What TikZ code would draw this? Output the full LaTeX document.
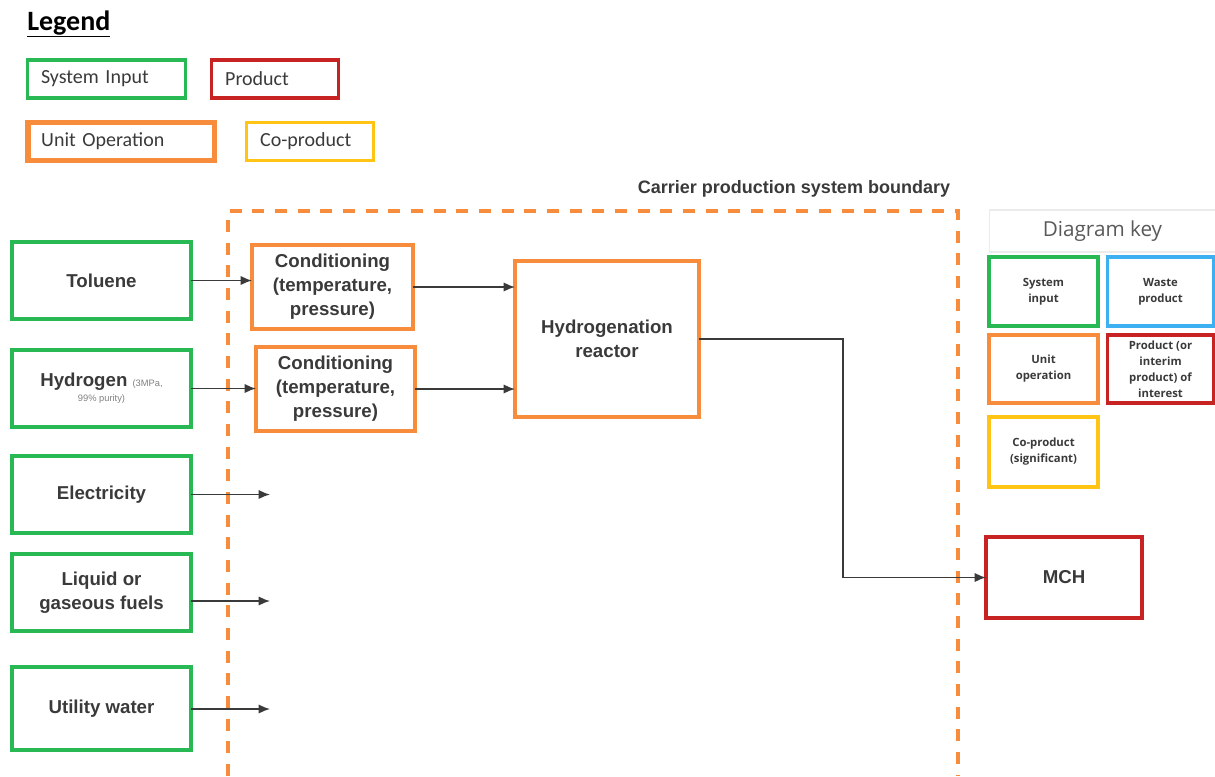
\documentclass[tikz,border=0pt]{standalone}
\usepackage{fontspec}
\setmainfont{Liberation Sans}
\newfontfamily\calf{Carlito}
\newfontfamily\keyf{Open Sans}
\usetikzlibrary{arrows.meta}
\definecolor{cgreen}{RGB}{40,185,85}
\definecolor{corange}{RGB}{246,140,60}
\definecolor{cred}{RGB}{200,35,35}
\definecolor{cyellow}{RGB}{255,196,20}
\definecolor{cblue}{RGB}{60,176,240}
\definecolor{ctext}{RGB}{58,58,58}
\begin{document}
\begin{tikzpicture}[x=0.75pt,y=-0.75pt,
  box/.style={draw=#1,line width=2.6pt,fill=white,inner sep=0pt,outer sep=0pt,align=center,text=ctext,
    font=\fontsize{14}{18}\selectfont\bfseries},
  lg/.style={draw=#1,line width=2.3pt,inner xsep=10pt,inner ysep=0pt,outer sep=0pt,align=left,
    minimum height=28.5pt,font=\calf\fontsize{15}{18}\selectfont,text=ctext},
  key/.style={draw=#1,line width=2.3pt,inner sep=0pt,outer sep=0pt,align=center,text=ctext,
    minimum width=81.75pt,minimum height=51.75pt,font=\keyf\fontsize{8.5}{12}\selectfont\bfseries},
  arr/.style={draw=ctext,line width=1.2pt,-{Latex[length=8.5pt,width=7pt]}},
  conn/.style={draw=ctext,line width=1.2pt}]
\useasboundingbox (0,0) rectangle (1215,776);

% Legend
\node[anchor=west,font=\calf\fontsize{21}{24}\selectfont\bfseries,text=black,inner sep=0pt] (legend) at (27,24) {\underline{Legend}};
\node[lg=cgreen,text width=98.25pt] (lgin) at (106.5,79) {System Input};
\node[lg=cred,text width=74.75pt] (lgprod) at (275,79) {Product};
\node[lg=corange,line width=4pt,text width=119.75pt] (lgunit) at (121,141.5) {Unit Operation};
\node[lg=cyellow,text width=74.75pt] (lgco) at (310,141.5) {Co-product};

% Boundary
\draw[corange,line width=2.6pt,dash pattern=on 9pt off 8pt] (228,776) -- (228,211) -- (958,211) -- (958,776);
\node[font=\fontsize{13.5}{16}\selectfont\bfseries,text=ctext] (blabel) at (794,189) {Carrier production system boundary};

% Inputs
\node[box=cgreen,minimum width=134.25pt,minimum height=57.75pt] (toluene) at (101.5,280.5) {Toluene};
\node[box=cgreen,minimum width=134.25pt,minimum height=57.75pt,font=\fontsize{14}{12}\selectfont] (hydrogen) at (101.5,388.5)
  {\textbf{Hydrogen} {\color{gray}\fontsize{7}{9}\selectfont (3MPa,}\\[-1pt]{\color{gray}\fontsize{7}{9}\selectfont 99\% purity)}};
\node[box=cgreen,minimum width=134.25pt,minimum height=57.75pt] (electricity) at (101.5,494.5) {Electricity};
\node[box=cgreen,minimum width=134.25pt,minimum height=57.75pt] (fuels) at (101.5,592.5) {Liquid or\\gaseous fuels};
\node[box=cgreen,minimum width=134.25pt,minimum height=62.25pt] (water) at (101.5,708.5) {Utility water};

% Unit operations
\node[box=corange,minimum width=120.75pt,minimum height=63pt] (cond1) at (332.5,287) {Conditioning\\(temperature,\\pressure)};
\node[box=corange,minimum width=119.25pt,minimum height=63pt] (cond2) at (335.5,389) {Conditioning\\(temperature,\\pressure)};
\node[box=corange,minimum width=138pt,minimum height=117pt] (reactor) at (607,339) {Hydrogenation\\reactor};

% Product
\node[box=cred,minimum width=117pt,minimum height=60.75pt] (mch) at (1064,577.5) {MCH};

% Diagram key
\node[draw=black!8,line width=0.8pt,minimum width=170pt,minimum height=31.5pt,inner sep=0pt,
  font=\keyf\fontsize{15.5}{18}\selectfont,text=black!65] (keytitle) at (1102.5,231) {Diagram key};
\node[key=cgreen] (ksys) at (1043.5,291.5) {System\\input};
\node[key=cblue,minimum width=79.5pt] (kwaste) at (1160.5,291.5) {Waste\\product};
\node[key=corange,minimum height=51pt] (kunit) at (1043.5,369) {Unit\\operation};
\node[key=cred,minimum width=79.5pt,minimum height=51pt] (kprod) at (1160.5,369) {Product (or\\interim\\product) of\\interest};
\node[key=cyellow,minimum height=52.5pt] (kco) at (1043.5,452) {Co-product\\(significant)};

% Connectors
\coordinate (e1) at (270,494.5);
\coordinate (f1) at (270,601);
\coordinate (w1) at (270,709);
\coordinate (bend) at (843,339);
\draw[arr] (toluene.east) -- (toluene.east -| cond1.west);
\draw[arr] (hydrogen.east) -- (hydrogen.east -| cond2.west);
\draw[arr] (cond1.east) -- (cond1.east -| reactor.west);
\draw[arr] (cond2.east) -- (cond2.east -| reactor.west);
\draw[arr] (electricity.east) -- (e1);
\draw[arr] (fuels.east |- f1) -- (f1);
\draw[arr] (water.east |- w1) -- (w1);
\draw[arr] (reactor.east) -- (bend) |- (mch.west);
\end{tikzpicture}
\end{document}
